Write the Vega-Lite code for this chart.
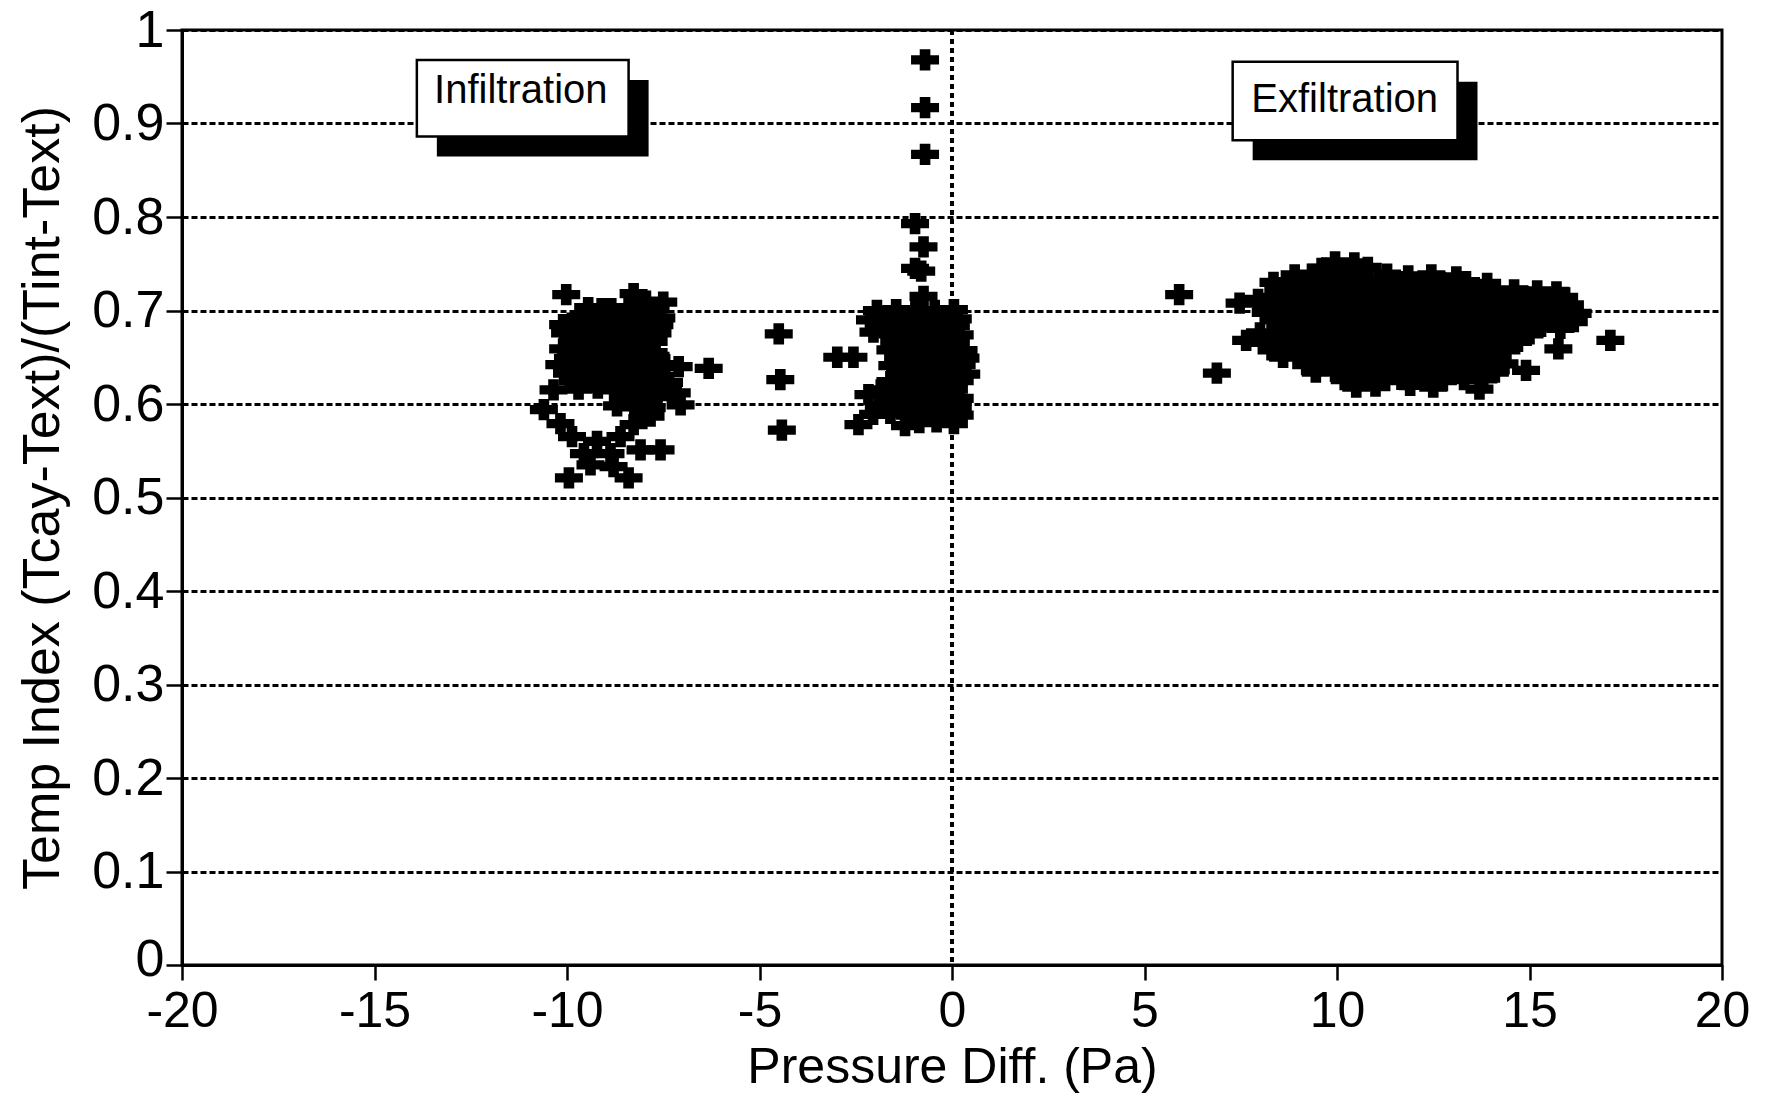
{
  "$schema": "https://vega.github.io/schema/vega-lite/v6.json",
  "width": 1540,
  "height": 935,
  "autosize": {"type": "none"},
  "padding": {"left": 182, "top": 30, "right": 43, "bottom": 135},
  "background": "white",
  "config": {
    "font": "Liberation Sans",
    "view": {"stroke": "black", "strokeWidth": 3},
    "axis": {
      "domainColor": "black", "domainWidth": 3,
      "tickColor": "black", "tickWidth": 2.5,
      "labelColor": "black", "titleColor": "black",
      "labelFont": "Liberation Sans", "titleFont": "Liberation Sans",
      "titleFontSize": 50, "titleFontWeight": "normal",
      "grid": false
    },
    "axisX": {"tickSize": 15, "labelPadding": 6, "titlePadding": 6, "labelFlush": false, "labelOverlap": false, "labelFontSize": 50},
    "axisY": {"tickSize": 16, "labelPadding": 2, "titlePadding": 22, "titleFontSize": 52, "labelFontSize": 52, "grid": true, "gridColor": "black", "gridDash": [6, 3], "gridWidth": 3, "gridOpacity": 1}
  },
  "datasets": {
    "pts": [
      {"dp": -10.02, "ti": 0.717}, {"dp": -8.27, "ti": 0.718},
      {"dp": -7.95, "ti": 0.710}, {"dp": -7.50, "ti": 0.709},
      {"dp": -9.45, "ti": 0.703}, {"dp": -9.10, "ti": 0.702}, {"dp": -8.85, "ti": 0.702}, {"dp": -8.40, "ti": 0.703}, {"dp": -8.05, "ti": 0.701}, {"dp": -7.70, "ti": 0.702},
      {"dp": -9.65, "ti": 0.693}, {"dp": -9.25, "ti": 0.694}, {"dp": -8.70, "ti": 0.692}, {"dp": -8.20, "ti": 0.693}, {"dp": -7.85, "ti": 0.694}, {"dp": -7.55, "ti": 0.692},
      {"dp": -10.10, "ti": 0.685}, {"dp": -9.70, "ti": 0.684}, {"dp": -9.30, "ti": 0.686}, {"dp": -8.90, "ti": 0.685}, {"dp": -8.45, "ti": 0.684}, {"dp": -8.00, "ti": 0.686}, {"dp": -7.60, "ti": 0.685},
      {"dp": -10.05, "ti": 0.676}, {"dp": -9.60, "ti": 0.677}, {"dp": -9.15, "ti": 0.675}, {"dp": -8.75, "ti": 0.676}, {"dp": -8.30, "ti": 0.677}, {"dp": -7.90, "ti": 0.675}, {"dp": -7.65, "ti": 0.676},
      {"dp": -9.85, "ti": 0.668}, {"dp": -9.40, "ti": 0.669}, {"dp": -9.00, "ti": 0.667}, {"dp": -8.60, "ti": 0.668}, {"dp": -8.10, "ti": 0.669}, {"dp": -7.75, "ti": 0.667},
      {"dp": -10.10, "ti": 0.659}, {"dp": -9.65, "ti": 0.660}, {"dp": -9.20, "ti": 0.658}, {"dp": -8.80, "ti": 0.659}, {"dp": -8.40, "ti": 0.660}, {"dp": -7.95, "ti": 0.658}, {"dp": -7.75, "ti": 0.655},
      {"dp": -9.90, "ti": 0.651}, {"dp": -9.45, "ti": 0.650}, {"dp": -9.05, "ti": 0.652}, {"dp": -8.55, "ti": 0.651}, {"dp": -8.15, "ti": 0.650}, {"dp": -7.70, "ti": 0.651},
      {"dp": -10.20, "ti": 0.642}, {"dp": -9.75, "ti": 0.643}, {"dp": -9.30, "ti": 0.641}, {"dp": -8.85, "ti": 0.642}, {"dp": -8.35, "ti": 0.643}, {"dp": -7.90, "ti": 0.641}, {"dp": -7.45, "ti": 0.642}, {"dp": -7.10, "ti": 0.640},
      {"dp": -6.32, "ti": 0.638},
      {"dp": -10.00, "ti": 0.633}, {"dp": -9.55, "ti": 0.634}, {"dp": -9.10, "ti": 0.632}, {"dp": -8.65, "ti": 0.633}, {"dp": -8.20, "ti": 0.634}, {"dp": -7.80, "ti": 0.632}, {"dp": -7.35, "ti": 0.623},
      {"dp": -9.85, "ti": 0.625}, {"dp": -9.35, "ti": 0.624}, {"dp": -8.95, "ti": 0.626}, {"dp": -8.50, "ti": 0.625}, {"dp": -8.05, "ti": 0.624}, {"dp": -7.60, "ti": 0.626}, {"dp": -7.15, "ti": 0.612},
      {"dp": -9.70, "ti": 0.616}, {"dp": -9.20, "ti": 0.617}, {"dp": -8.75, "ti": 0.615}, {"dp": -8.30, "ti": 0.616}, {"dp": -7.85, "ti": 0.617}, {"dp": -7.40, "ti": 0.615},
      {"dp": -8.55, "ti": 0.607}, {"dp": -8.10, "ti": 0.606}, {"dp": -7.65, "ti": 0.608}, {"dp": -7.05, "ti": 0.599},
      {"dp": -8.70, "ti": 0.598}, {"dp": -8.25, "ti": 0.597}, {"dp": -7.80, "ti": 0.596},
      {"dp": -10.60, "ti": 0.594}, {"dp": -10.35, "ti": 0.615}, {"dp": -10.17, "ti": 0.579}, {"dp": -9.87, "ti": 0.565}, {"dp": -9.22, "ti": 0.560},
      {"dp": -9.56, "ti": 0.547}, {"dp": -8.87, "ti": 0.547}, {"dp": -8.09, "ti": 0.551}, {"dp": -7.57, "ti": 0.551}, {"dp": -9.95, "ti": 0.521},
      {"dp": -9.39, "ti": 0.535}, {"dp": -8.79, "ti": 0.533}, {"dp": -8.40, "ti": 0.521}, {"dp": -8.27, "ti": 0.578}, {"dp": -8.61, "ti": 0.565}, {"dp": -7.83, "ti": 0.587},
      {"dp": -4.50, "ti": 0.675}, {"dp": -4.46, "ti": 0.626}, {"dp": -4.42, "ti": 0.572},
      {"dp": -0.70, "ti": 0.968}, {"dp": -0.70, "ti": 0.917}, {"dp": -0.70, "ti": 0.867}, {"dp": -0.96, "ti": 0.793}, {"dp": -0.74, "ti": 0.768}, {"dp": -0.96, "ti": 0.745}, {"dp": -0.80, "ti": 0.742}, {"dp": -0.74, "ti": 0.715},
      {"dp": -2.98, "ti": 0.650}, {"dp": -2.56, "ti": 0.650},
      {"dp": -2.43, "ti": 0.578}, {"dp": -2.17, "ti": 0.610}, {"dp": -2.13, "ti": 0.690}, {"dp": -2.04, "ti": 0.677},
      {"dp": -1.95, "ti": 0.700}, {"dp": -1.45, "ti": 0.701}, {"dp": -0.95, "ti": 0.699}, {"dp": -0.45, "ti": 0.700}, {"dp": 0.05, "ti": 0.701},
      {"dp": -1.70, "ti": 0.692}, {"dp": -1.20, "ti": 0.691}, {"dp": -0.70, "ti": 0.693}, {"dp": -0.25, "ti": 0.692}, {"dp": 0.15, "ti": 0.691},
      {"dp": -1.85, "ti": 0.683}, {"dp": -1.35, "ti": 0.684}, {"dp": -0.85, "ti": 0.682}, {"dp": -0.40, "ti": 0.683}, {"dp": 0.10, "ti": 0.684},
      {"dp": -1.55, "ti": 0.675}, {"dp": -1.05, "ti": 0.674}, {"dp": -0.60, "ti": 0.676}, {"dp": -0.15, "ti": 0.675}, {"dp": 0.20, "ti": 0.674},
      {"dp": -1.50, "ti": 0.666}, {"dp": -1.15, "ti": 0.667}, {"dp": -0.75, "ti": 0.665}, {"dp": -0.30, "ti": 0.666}, {"dp": 0.10, "ti": 0.667},
      {"dp": -1.60, "ti": 0.658}, {"dp": -1.00, "ti": 0.657}, {"dp": -0.50, "ti": 0.659}, {"dp": -0.05, "ti": 0.658}, {"dp": 0.30, "ti": 0.657},
      {"dp": -1.40, "ti": 0.650}, {"dp": -0.90, "ti": 0.649}, {"dp": -0.40, "ti": 0.651}, {"dp": 0.05, "ti": 0.650}, {"dp": 0.35, "ti": 0.649},
      {"dp": -1.55, "ti": 0.641}, {"dp": -1.10, "ti": 0.642}, {"dp": -0.65, "ti": 0.640}, {"dp": -0.20, "ti": 0.641}, {"dp": 0.25, "ti": 0.642},
      {"dp": -1.35, "ti": 0.633}, {"dp": -0.85, "ti": 0.632}, {"dp": -0.35, "ti": 0.634}, {"dp": 0.10, "ti": 0.633}, {"dp": 0.37, "ti": 0.632},
      {"dp": -1.60, "ti": 0.624}, {"dp": -1.15, "ti": 0.625}, {"dp": -0.70, "ti": 0.623}, {"dp": -0.25, "ti": 0.624}, {"dp": 0.20, "ti": 0.625},
      {"dp": -1.85, "ti": 0.615}, {"dp": -1.40, "ti": 0.616}, {"dp": -0.95, "ti": 0.614}, {"dp": -0.45, "ti": 0.615}, {"dp": 0.05, "ti": 0.616},
      {"dp": -1.65, "ti": 0.607}, {"dp": -1.20, "ti": 0.606}, {"dp": -0.75, "ti": 0.608}, {"dp": -0.30, "ti": 0.607}, {"dp": 0.20, "ti": 0.606},
      {"dp": -1.90, "ti": 0.598}, {"dp": -1.45, "ti": 0.599}, {"dp": -0.95, "ti": 0.597}, {"dp": -0.50, "ti": 0.598}, {"dp": -0.05, "ti": 0.599}, {"dp": 0.15, "ti": 0.596},
      {"dp": -2.05, "ti": 0.589}, {"dp": -1.60, "ti": 0.590}, {"dp": -1.10, "ti": 0.588}, {"dp": -0.65, "ti": 0.589}, {"dp": -0.20, "ti": 0.590}, {"dp": 0.20, "ti": 0.588},
      {"dp": -1.22, "ti": 0.577}, {"dp": -0.85, "ti": 0.580}, {"dp": -0.40, "ti": 0.581}, {"dp": 0.05, "ti": 0.579},
      {"dp": 5.90, "ti": 0.717}, {"dp": 6.88, "ti": 0.633}, {"dp": 17.10, "ti": 0.668}, {"dp": 15.75, "ti": 0.659}, {"dp": 14.91, "ti": 0.636},
      {"dp": 7.47, "ti": 0.708}, {"dp": 7.95, "ti": 0.712}, {"dp": 7.64, "ti": 0.668}, {"dp": 8.00, "ti": 0.676},
      {"dp": 9.95, "ti": 0.752}, {"dp": 10.45, "ti": 0.751},
      {"dp": 9.60, "ti": 0.745}, {"dp": 10.20, "ti": 0.744}, {"dp": 10.80, "ti": 0.746},
      {"dp": 8.90, "ti": 0.738}, {"dp": 9.35, "ti": 0.739}, {"dp": 9.85, "ti": 0.737}, {"dp": 10.55, "ti": 0.738}, {"dp": 11.30, "ti": 0.739}, {"dp": 11.85, "ti": 0.737}, {"dp": 12.45, "ti": 0.738}, {"dp": 13.10, "ti": 0.736},
      {"dp": 8.35, "ti": 0.730}, {"dp": 8.75, "ti": 0.731}, {"dp": 9.20, "ti": 0.729}, {"dp": 9.70, "ti": 0.730}, {"dp": 10.15, "ti": 0.731}, {"dp": 10.65, "ti": 0.729}, {"dp": 11.10, "ti": 0.730}, {"dp": 11.60, "ti": 0.731}, {"dp": 12.10, "ti": 0.729}, {"dp": 12.70, "ti": 0.730}, {"dp": 13.35, "ti": 0.731}, {"dp": 13.90, "ti": 0.729},
      {"dp": 8.55, "ti": 0.722}, {"dp": 9.00, "ti": 0.723}, {"dp": 9.50, "ti": 0.721}, {"dp": 10.00, "ti": 0.722}, {"dp": 10.40, "ti": 0.723}, {"dp": 10.90, "ti": 0.721}, {"dp": 11.40, "ti": 0.722}, {"dp": 11.90, "ti": 0.723}, {"dp": 12.35, "ti": 0.721}, {"dp": 12.90, "ti": 0.722}, {"dp": 13.50, "ti": 0.723}, {"dp": 14.10, "ti": 0.721}, {"dp": 14.60, "ti": 0.722}, {"dp": 15.20, "ti": 0.721}, {"dp": 15.70, "ti": 0.720},
      {"dp": 8.25, "ti": 0.714}, {"dp": 8.70, "ti": 0.715}, {"dp": 9.15, "ti": 0.713}, {"dp": 9.65, "ti": 0.714}, {"dp": 10.20, "ti": 0.715}, {"dp": 10.70, "ti": 0.713}, {"dp": 11.15, "ti": 0.714}, {"dp": 11.65, "ti": 0.715}, {"dp": 12.20, "ti": 0.713}, {"dp": 12.60, "ti": 0.714}, {"dp": 13.15, "ti": 0.715}, {"dp": 13.70, "ti": 0.713}, {"dp": 14.30, "ti": 0.714}, {"dp": 14.85, "ti": 0.715}, {"dp": 15.40, "ti": 0.713}, {"dp": 15.90, "ti": 0.714},
      {"dp": 8.45, "ti": 0.706}, {"dp": 8.90, "ti": 0.707}, {"dp": 9.40, "ti": 0.705}, {"dp": 9.90, "ti": 0.706}, {"dp": 10.45, "ti": 0.707}, {"dp": 10.95, "ti": 0.705}, {"dp": 11.45, "ti": 0.706}, {"dp": 11.90, "ti": 0.707}, {"dp": 12.45, "ti": 0.705}, {"dp": 12.95, "ti": 0.706}, {"dp": 13.45, "ti": 0.707}, {"dp": 14.00, "ti": 0.705}, {"dp": 14.55, "ti": 0.706}, {"dp": 15.10, "ti": 0.707}, {"dp": 15.60, "ti": 0.705}, {"dp": 16.05, "ti": 0.706},
      {"dp": 8.15, "ti": 0.698}, {"dp": 8.65, "ti": 0.699}, {"dp": 9.15, "ti": 0.697}, {"dp": 9.65, "ti": 0.698}, {"dp": 10.15, "ti": 0.699}, {"dp": 10.65, "ti": 0.697}, {"dp": 11.15, "ti": 0.698}, {"dp": 11.70, "ti": 0.699}, {"dp": 12.20, "ti": 0.697}, {"dp": 12.70, "ti": 0.698}, {"dp": 13.25, "ti": 0.699}, {"dp": 13.75, "ti": 0.697}, {"dp": 14.30, "ti": 0.698}, {"dp": 14.80, "ti": 0.699}, {"dp": 15.35, "ti": 0.697}, {"dp": 15.85, "ti": 0.698}, {"dp": 16.25, "ti": 0.697},
      {"dp": 8.35, "ti": 0.690}, {"dp": 8.85, "ti": 0.691}, {"dp": 9.35, "ti": 0.689}, {"dp": 9.90, "ti": 0.690}, {"dp": 10.40, "ti": 0.691}, {"dp": 10.90, "ti": 0.689}, {"dp": 11.40, "ti": 0.690}, {"dp": 11.95, "ti": 0.691}, {"dp": 12.45, "ti": 0.689}, {"dp": 12.95, "ti": 0.690}, {"dp": 13.50, "ti": 0.691}, {"dp": 14.05, "ti": 0.689}, {"dp": 14.55, "ti": 0.690}, {"dp": 15.05, "ti": 0.691}, {"dp": 15.55, "ti": 0.689}, {"dp": 16.15, "ti": 0.688},
      {"dp": 8.55, "ti": 0.682}, {"dp": 9.05, "ti": 0.683}, {"dp": 9.60, "ti": 0.681}, {"dp": 10.10, "ti": 0.682}, {"dp": 10.60, "ti": 0.683}, {"dp": 11.15, "ti": 0.681}, {"dp": 11.65, "ti": 0.682}, {"dp": 12.15, "ti": 0.683}, {"dp": 12.70, "ti": 0.681}, {"dp": 13.20, "ti": 0.682}, {"dp": 13.75, "ti": 0.683}, {"dp": 14.25, "ti": 0.681}, {"dp": 14.80, "ti": 0.682}, {"dp": 15.30, "ti": 0.683}, {"dp": 15.80, "ti": 0.681},
      {"dp": 8.30, "ti": 0.674}, {"dp": 8.80, "ti": 0.675}, {"dp": 9.30, "ti": 0.673}, {"dp": 9.80, "ti": 0.674}, {"dp": 10.35, "ti": 0.675}, {"dp": 10.85, "ti": 0.673}, {"dp": 11.35, "ti": 0.674}, {"dp": 11.90, "ti": 0.675}, {"dp": 12.40, "ti": 0.673}, {"dp": 12.90, "ti": 0.674}, {"dp": 13.45, "ti": 0.675}, {"dp": 14.00, "ti": 0.673}, {"dp": 14.50, "ti": 0.674}, {"dp": 15.00, "ti": 0.675},
      {"dp": 8.10, "ti": 0.666}, {"dp": 8.55, "ti": 0.667}, {"dp": 9.05, "ti": 0.665}, {"dp": 9.55, "ti": 0.666}, {"dp": 10.05, "ti": 0.667}, {"dp": 10.55, "ti": 0.665}, {"dp": 11.10, "ti": 0.666}, {"dp": 11.60, "ti": 0.667}, {"dp": 12.10, "ti": 0.665}, {"dp": 12.65, "ti": 0.666}, {"dp": 13.15, "ti": 0.667}, {"dp": 13.65, "ti": 0.665}, {"dp": 14.20, "ti": 0.666}, {"dp": 14.70, "ti": 0.667},
      {"dp": 8.30, "ti": 0.658}, {"dp": 8.80, "ti": 0.659}, {"dp": 9.30, "ti": 0.657}, {"dp": 9.80, "ti": 0.658}, {"dp": 10.30, "ti": 0.659}, {"dp": 10.80, "ti": 0.657}, {"dp": 11.30, "ti": 0.658}, {"dp": 11.85, "ti": 0.659}, {"dp": 12.35, "ti": 0.657}, {"dp": 12.85, "ti": 0.658}, {"dp": 13.40, "ti": 0.659}, {"dp": 13.90, "ti": 0.657}, {"dp": 14.40, "ti": 0.658},
      {"dp": 8.60, "ti": 0.650}, {"dp": 9.05, "ti": 0.651}, {"dp": 9.55, "ti": 0.649}, {"dp": 10.05, "ti": 0.650}, {"dp": 10.55, "ti": 0.651}, {"dp": 11.05, "ti": 0.649}, {"dp": 11.55, "ti": 0.650}, {"dp": 12.05, "ti": 0.651}, {"dp": 12.60, "ti": 0.649}, {"dp": 13.10, "ti": 0.650}, {"dp": 13.60, "ti": 0.651}, {"dp": 14.15, "ti": 0.649},
      {"dp": 9.20, "ti": 0.642}, {"dp": 9.75, "ti": 0.643}, {"dp": 10.25, "ti": 0.641}, {"dp": 10.75, "ti": 0.642}, {"dp": 11.25, "ti": 0.643}, {"dp": 11.80, "ti": 0.641}, {"dp": 12.30, "ti": 0.642}, {"dp": 12.80, "ti": 0.643}, {"dp": 13.30, "ti": 0.641}, {"dp": 13.85, "ti": 0.642}, {"dp": 14.35, "ti": 0.643},
      {"dp": 9.45, "ti": 0.634}, {"dp": 9.95, "ti": 0.635}, {"dp": 10.45, "ti": 0.633}, {"dp": 11.00, "ti": 0.634}, {"dp": 11.50, "ti": 0.635}, {"dp": 12.00, "ti": 0.633}, {"dp": 12.55, "ti": 0.634}, {"dp": 13.05, "ti": 0.635}, {"dp": 13.55, "ti": 0.633}, {"dp": 14.10, "ti": 0.634},
      {"dp": 10.20, "ti": 0.626}, {"dp": 10.70, "ti": 0.627}, {"dp": 11.25, "ti": 0.625}, {"dp": 11.75, "ti": 0.626}, {"dp": 12.25, "ti": 0.627}, {"dp": 12.75, "ti": 0.625}, {"dp": 13.30, "ti": 0.626}, {"dp": 13.80, "ti": 0.627},
      {"dp": 10.50, "ti": 0.618}, {"dp": 11.00, "ti": 0.619}, {"dp": 11.90, "ti": 0.620}, {"dp": 12.50, "ti": 0.618}, {"dp": 13.70, "ti": 0.616}
    ],
    "boxes": [
      {"label": "Infiltration", "bx1": -13.9, "bx2": -8.4, "by1": 0.886, "by2": 0.968, "tx": -11.2, "ty": 0.922},
      {"label": "Exfiltration", "bx1": 7.29, "bx2": 13.13, "by1": 0.882, "by2": 0.966, "tx": 10.2, "ty": 0.912}
    ]
  },
  "layer": [
    {
      "data": {"name": "pts"},
      "mark": {"type": "rule", "color": "black", "strokeWidth": 3, "strokeDash": [5, 4]},
      "encoding": {
        "x": {"datum": 0, "type": "quantitative", "title": "Pressure Diff. (Pa)"}
      }
    },
    {
      "data": {"name": "pts"},
      "mark": {
        "type": "point",
        "shape": "M-1,-0.33L-0.38,-0.33L-0.38,-0.76L0.38,-0.76L0.38,-0.33L1,-0.33L1,0.33L0.38,0.33L0.38,0.76L-0.38,0.76L-0.38,0.33L-1,0.33Z",
        "filled": true, "size": 784, "color": "black", "opacity": 1, "strokeWidth": 0
      },
      "encoding": {
        "x": {
          "field": "dp", "type": "quantitative", "title": "Pressure Diff. (Pa)",
          "scale": {"domain": [-20, 20], "nice": false, "zero": false},
          "axis": {"values": [-20, -15, -10, -5, 0, 5, 10, 15, 20], "labelExpr": "'' + datum.value"}
        },
        "y": {
          "field": "ti", "type": "quantitative", "title": "Temp Index (Tcay-Text)/(Tint-Text)",
          "scale": {"domain": [0, 1], "nice": false},
          "axis": {
            "values": [0, 0.1, 0.2, 0.3, 0.4, 0.5, 0.6, 0.7, 0.8, 0.9, 1],
            "labelExpr": "'' + datum.value",
            "labelOffset": {"condition": {"test": "datum.value == 0", "value": -6}, "value": 0}
          }
        }
      }
    },
    {
      "data": {"name": "boxes"},
      "mark": {"type": "rect", "color": "black", "opacity": 1, "xOffset": 20, "x2Offset": 20, "yOffset": 20, "y2Offset": 20},
      "encoding": {
        "x": {"field": "bx1", "type": "quantitative", "title": "Pressure Diff. (Pa)"},
        "x2": {"field": "bx2"},
        "y": {"field": "by1", "type": "quantitative", "title": "Temp Index (Tcay-Text)/(Tint-Text)"},
        "y2": {"field": "by2"}
      }
    },
    {
      "data": {"name": "boxes"},
      "mark": {"type": "rect", "fill": "white", "stroke": "black", "strokeWidth": 2.5, "opacity": 1},
      "encoding": {
        "x": {"field": "bx1", "type": "quantitative", "title": "Pressure Diff. (Pa)"},
        "x2": {"field": "bx2"},
        "y": {"field": "by1", "type": "quantitative", "title": "Temp Index (Tcay-Text)/(Tint-Text)"},
        "y2": {"field": "by2"}
      }
    },
    {
      "data": {"name": "boxes"},
      "mark": {"type": "text", "font": "Liberation Sans", "fontSize": 40, "color": "black", "align": "center", "baseline": "alphabetic"},
      "encoding": {
        "x": {"field": "tx", "type": "quantitative", "title": "Pressure Diff. (Pa)"},
        "y": {"field": "ty", "type": "quantitative", "title": "Temp Index (Tcay-Text)/(Tint-Text)"},
        "text": {"field": "label"}
      }
    }
  ]
}
